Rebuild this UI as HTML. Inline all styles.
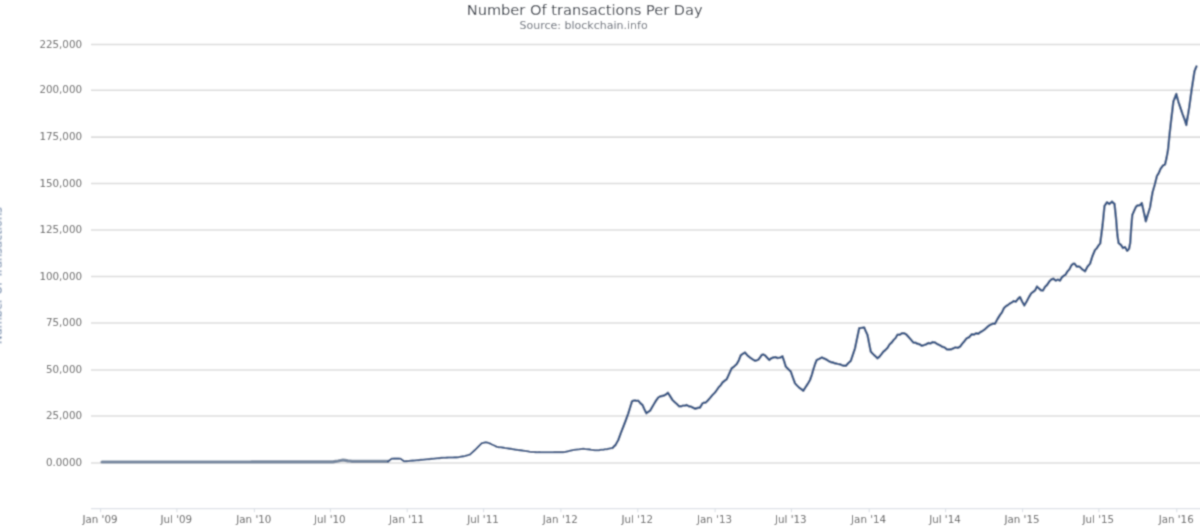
<!DOCTYPE html>
<html>
<head>
<meta charset="utf-8">
<title>Number Of transactions Per Day</title>
<style>
html,body{margin:0;padding:0;background:#fff;}
body{width:1200px;height:528px;overflow:hidden;position:relative;}
svg{position:absolute;left:0;top:0;display:block;}
text{font-family:"DejaVu Sans","Liberation Sans",sans-serif;}
.grid line{stroke:#dcdcdc;stroke-width:1.6;}
.ticks line{stroke:#d8dde4;stroke-width:1;}
.ylab text{font-size:10.3px;fill:#595959;text-anchor:end;}
.xlab text{font-size:10.3px;fill:#595959;text-anchor:middle;}
</style>
</head>
<body>
<svg width="1200" height="528" viewBox="0 0 1200 528">
<rect x="0" y="0" width="1200" height="528" fill="#ffffff"/>
<defs>
<filter id="mild" x="0" y="0" width="100%" height="100%" filterUnits="userSpaceOnUse" primitiveUnits="userSpaceOnUse"><feConvolveMatrix order="3" kernelMatrix="0.0400 0.1200 0.0400 0.1200 0.3600 0.1200 0.0400 0.1200 0.0400" edgeMode="duplicate" preserveAlpha="true"/></filter>
</defs>
<g id="chart" filter="url(#mild)">
<rect x="0" y="0" width="1200" height="528" fill="#ffffff"/>
<g opacity="1">
<text id="title" x="584.7" y="14.9" text-anchor="middle" font-size="14.6" fill="#3d434d">Number Of transactions Per Day</text>
<text id="sub" x="583.6" y="29.4" text-anchor="middle" font-size="11" fill="#686e78">Source: blockchain.info</text>
<text id="ytitle" transform="translate(1.7,275.5) rotate(-90)" text-anchor="middle" font-size="11.4" fill="#6b84a6">Number Of Transactions</text>
</g>
<g class="grid">
<line x1="91" x2="1200" y1="44.5" y2="44.5"/>
<line x1="91" x2="1200" y1="90.2" y2="90.2"/>
<line x1="91" x2="1200" y1="137.1" y2="137.1"/>
<line x1="91" x2="1200" y1="183.5" y2="183.5"/>
<line x1="91" x2="1200" y1="230" y2="230"/>
<line x1="91" x2="1200" y1="276.5" y2="276.5"/>
<line x1="91" x2="1200" y1="323" y2="323"/>
<line x1="91" x2="1200" y1="370" y2="370"/>
<line x1="91" x2="1200" y1="416" y2="416"/>
<line x1="91" x2="1200" y1="463" y2="463"/>
<line x1="91" x2="1200" y1="508.7" y2="508.7" style="stroke:#dde1e7;stroke-width:1.3"/>
</g>
<g class="ticks">
<line x1="100.6" x2="100.6" y1="508.7" y2="512.2"/>
<line x1="176.9" x2="176.9" y1="508.7" y2="512.2"/>
<line x1="254.4" x2="254.4" y1="508.7" y2="512.2"/>
<line x1="330.40000000000003" x2="330.40000000000003" y1="508.7" y2="512.2"/>
<line x1="407.20000000000005" x2="407.20000000000005" y1="508.7" y2="512.2"/>
<line x1="483.6" x2="483.6" y1="508.7" y2="512.2"/>
<line x1="560.9" x2="560.9" y1="508.7" y2="512.2"/>
<line x1="637.8000000000001" x2="637.8000000000001" y1="508.7" y2="512.2"/>
<line x1="715.1" x2="715.1" y1="508.7" y2="512.2"/>
<line x1="791.4" x2="791.4" y1="508.7" y2="512.2"/>
<line x1="869.2" x2="869.2" y1="508.7" y2="512.2"/>
<line x1="945.6" x2="945.6" y1="508.7" y2="512.2"/>
<line x1="1022.6" x2="1022.6" y1="508.7" y2="512.2"/>
<line x1="1098.8999999999999" x2="1098.8999999999999" y1="508.7" y2="512.2"/>
<line x1="1176.8" x2="1176.8" y1="508.7" y2="512.2"/>
</g>
<g class="ylab" opacity="1">
<text x="82" y="47.5">225,000</text>
<text x="82" y="93.2">200,000</text>
<text x="82" y="140.1">175,000</text>
<text x="82" y="186.5">150,000</text>
<text x="82" y="233">125,000</text>
<text x="82" y="279.5">100,000</text>
<text x="82" y="326">75,000</text>
<text x="82" y="373">50,000</text>
<text x="82" y="419">25,000</text>
<text x="82" y="466">0.0000</text>
</g>
<g class="xlab" opacity="1">
<text x="100" y="522.5">Jan '09</text>
<text x="176.3" y="522.5">Jul '09</text>
<text x="253.8" y="522.5">Jan '10</text>
<text x="329.8" y="522.5">Jul '10</text>
<text x="406.6" y="522.5">Jan '11</text>
<text x="483" y="522.5">Jul '11</text>
<text x="560.3" y="522.5">Jan '12</text>
<text x="637.2" y="522.5">Jul '12</text>
<text x="714.5" y="522.5">Jan '13</text>
<text x="790.8" y="522.5">Jul '13</text>
<text x="868.6" y="522.5">Jan '14</text>
<text x="945" y="522.5">Jul '14</text>
<text x="1022" y="522.5">Jan '15</text>
<text x="1098.3" y="522.5">Jul '15</text>
<text x="1176.2" y="522.5">Jan '16</text>
</g>
<polyline id="seriesA" fill="none" stroke="#76879f" stroke-width="3.2" stroke-linejoin="round" stroke-linecap="round" points="102.0,462.0 104.0,462.0 106.0,462.0 108.0,462.0 110.0,462.0 112.0,462.0 114.0,462.0 116.0,462.0 118.0,462.0 120.0,462.0 122.0,462.0 124.0,462.0 126.0,462.0 128.0,462.0 130.0,462.0 132.0,462.0 134.0,462.0 136.0,462.0 138.0,462.0 140.0,462.0 142.0,462.0 144.0,462.0 146.0,462.0 148.0,462.0 150.0,462.0 152.0,462.0 154.0,462.0 156.0,462.0 158.0,462.0 160.0,462.0 162.0,462.0 164.0,462.0 166.0,462.0 168.0,462.0 170.0,462.0 172.0,462.0 174.0,462.0 176.0,462.0 178.0,462.0 180.0,462.0 182.0,462.0 184.0,462.0 186.0,462.0 188.0,462.0 190.0,462.0 192.0,462.0 194.0,462.0 196.0,462.0 198.0,462.0 200.0,462.0 202.0,462.0 204.0,462.0 206.0,462.0 208.0,462.0 210.0,462.0 212.0,462.0 214.0,462.0 216.0,462.0 218.0,462.0 220.0,462.0 222.0,462.0 224.0,462.0 226.0,462.0 228.0,462.0 230.0,462.0 232.0,462.0 234.0,462.0 236.0,462.0 238.0,462.0 240.0,462.0 242.0,462.0 244.0,462.0 246.0,462.0 248.0,462.0 250.0,462.0 252.0,461.9 254.0,461.9 256.0,461.9 258.0,461.9 260.0,461.9 262.0,461.9 264.0,461.9 266.0,461.9 268.0,461.9 270.0,461.9 272.0,461.9 274.0,461.9 276.0,461.9 278.0,461.9 280.0,461.9 282.0,461.9 284.0,461.9 286.0,461.9 288.0,461.9 290.0,461.9 292.0,461.9 294.0,461.9 296.0,461.9 298.0,461.9 300.0,461.9 302.1,461.9 304.1,461.9 306.2,461.9 308.2,461.9 310.3,461.9 312.4,461.9 314.4,461.9 316.5,461.9 318.6,461.8 320.6,461.8 322.7,461.8 324.8,461.8 326.8,461.8 328.9,461.8 330.9,461.8 333.0,461.8 335.5,461.4 338.0,461.0 340.5,460.5 343.0,460.0 345.5,460.4 348.0,460.8 350.0,461.0 352.0,461.3 354.0,461.3 356.0,461.3 358.0,461.3 360.0,461.3 362.0,461.4 364.0,461.4 366.0,461.4 368.0,461.4 370.0,461.4 372.0,461.4 374.0,461.4 376.0,461.4 378.0,461.4 380.0,461.3 382.0,461.3 384.0,461.3 386.0,461.3 388.0,461.3"/>
<polyline id="seriesB" fill="none" stroke="#3d5b88" stroke-width="2.1" stroke-linejoin="round" stroke-linecap="round" points="388.0,461.3 390.0,460.0 391.7,458.7 393.9,458.6 396.0,458.5 398.4,458.6 400.8,458.7 402.5,460.2 404.2,461.3 406.3,461.1 408.4,461.0 410.4,460.8 412.5,460.6 414.6,460.5 416.7,460.3 418.8,460.1 420.9,459.9 422.9,459.7 425.0,459.5 427.1,459.3 429.1,459.1 431.2,458.9 433.3,458.7 435.3,458.5 437.3,458.3 439.3,458.1 441.3,457.9 443.3,457.7 445.2,457.7 447.1,457.6 448.9,457.5 450.8,457.5 452.7,457.5 454.6,457.4 456.4,457.4 458.3,457.3 460.5,456.8 462.8,456.4 465.0,456.0 467.5,455.3 470.0,454.5 472.2,452.5 474.5,450.4 476.7,448.3 479.2,445.7 481.7,443.3 483.8,442.7 485.8,442.2 487.9,442.8 490.0,443.5 492.2,444.6 494.5,445.6 496.7,446.7 498.8,447.1 500.8,447.3 502.9,447.6 505.0,448.0 507.1,448.3 509.1,448.6 511.2,448.9 513.3,449.2 515.3,449.6 517.4,449.9 519.4,450.1 521.5,450.4 523.5,450.7 525.6,451.0 527.6,451.3 529.7,451.7 531.7,452.0 533.6,452.0 535.5,452.1 537.3,452.2 539.2,452.1 541.1,452.2 543.0,452.3 544.8,452.3 546.7,452.3 548.7,452.2 550.8,452.2 552.8,452.2 554.8,452.1 556.9,452.1 558.9,452.1 560.9,452.1 563.0,452.1 565.0,452.0 567.1,451.5 569.1,451.0 571.2,450.5 573.3,450.0 575.3,449.7 577.3,449.5 579.3,449.3 581.3,449.0 583.3,448.7 585.2,449.0 587.2,449.2 589.1,449.4 591.1,449.8 593.0,450.0 595.0,450.3 597.1,450.2 599.1,450.1 601.2,449.8 603.3,449.7 605.1,449.3 607.0,449.1 608.8,448.7 610.7,448.3 612.5,448.0"/>
<polyline id="seriesC" fill="none" stroke="#3d5b88" stroke-width="2.45" stroke-linejoin="round" stroke-linecap="round" points="612.5,448.0 614.0,446.4 615.5,445.0 618.3,440.0 620.8,433.2 623.3,426.7 625.8,420.2 628.3,413.3 630.1,407.5 632.0,401.3 633.5,400.6 635.0,400.5 636.6,400.9 638.3,400.8 640.4,403.3 642.5,405.0 644.4,409.3 646.3,413.3 648.1,412.0 650.0,410.8 652.0,407.4 654.0,404.0 656.1,400.5 658.3,397.5 660.8,396.2 663.3,395.8 665.6,394.7 668.0,392.8 670.0,396.0 672.5,400.0 674.7,402.2 677.0,404.2 679.2,406.3 681.1,406.3 683.0,405.6 684.8,405.6 686.7,405.0 688.8,406.2 690.9,406.6 692.9,407.6 695.0,408.7 697.5,408.0 700.0,407.5 702.5,403.3 704.1,402.7 705.8,402.5 707.9,400.3 710.0,398.0 712.5,395.0 715.0,392.5 716.9,389.9 718.8,387.1 720.6,385.4 722.5,382.5 724.6,380.7 726.7,379.2 729.2,373.7 731.7,368.3 734.2,366.4 736.7,364.2 738.8,360.3 740.8,355.3 742.9,353.8 745.0,352.5 747.5,355.6 750.0,357.5 752.5,359.2 755.0,360.8 756.6,360.3 758.3,359.7 760.0,357.4 761.7,355.0 763.4,354.5 765.0,355.3 767.1,357.6 769.2,360.0 771.2,358.3 773.3,357.5 775.4,357.1 777.5,358.0 780.0,357.6 782.5,356.3 784.1,361.1 785.8,366.7 788.3,369.2 790.8,371.7 792.9,377.7 795.0,383.3 797.0,385.5 799.0,387.5 801.1,389.0 803.3,390.8 805.1,387.9 807.0,385.0 808.5,382.6 810.0,380.0 811.8,374.8 813.5,369.0 815.1,364.0 816.7,360.0 819.2,358.8 821.7,357.5 823.9,358.3 826.1,359.4 828.3,360.8 830.5,362.0 832.8,362.5 835.0,363.3 837.5,363.9 840.0,364.3 841.9,365.1 843.9,365.8 845.8,365.8 848.3,363.2 850.8,360.8 852.9,354.7 855.0,348.3 857.1,338.3 859.2,328.3 861.7,327.9 864.2,327.5 865.9,331.6 867.5,335.0 869.1,343.3 870.8,351.7 872.4,353.4 874.0,355.0 875.8,356.6 877.5,358.3 879.4,356.7 881.4,354.2 883.3,351.7 885.4,350.0 887.5,347.8 889.6,344.4 891.7,342.5 893.6,340.0 895.6,338.0 897.5,334.7 899.7,334.8 902.0,333.2 904.2,333.3 906.2,334.4 908.3,336.7 910.8,339.5 913.3,342.5 915.4,342.7 917.5,343.8 919.6,344.3 921.7,345.8 923.9,345.1 926.1,344.4 928.3,343.0 930.5,343.4 932.8,342.1 935.0,342.5 937.5,344.2 940.0,345.3 942.2,346.8 944.5,347.4 946.7,349.2 948.9,349.5 951.1,349.3 953.3,348.3 955.5,347.4 957.8,347.9 960.0,346.7 962.2,343.7 964.5,341.1 966.7,338.3 969.2,337.1 971.7,334.2 973.9,334.6 976.1,333.3 978.3,333.7 980.5,332.1 982.8,330.7 985.0,329.2 987.5,326.8 990.0,325.0 992.5,323.8 995.0,323.7 997.5,319.0 1000.0,315.0 1001.9,312.5 1003.9,308.2 1005.8,306.3 1007.8,305.1 1009.7,303.6 1011.7,302.5 1013.8,301.1 1015.8,301.7 1017.9,299.0 1020.0,297.0 1022.1,301.5 1024.3,305.5 1026.7,301.3 1029.0,297.0 1031.2,293.4 1033.3,291.7 1035.2,290.2 1037.0,286.5 1039.0,288.5 1041.0,290.2 1043.0,290.5 1045.0,286.9 1047.0,285.0 1049.2,281.7 1051.3,279.5 1053.5,278.7 1055.7,280.6 1057.8,279.7 1060.0,280.5 1061.9,277.3 1063.8,275.7 1065.6,274.5 1067.5,271.3 1069.3,269.5 1071.2,265.7 1073.0,263.8 1074.8,263.8 1076.5,266.4 1078.2,266.4 1080.0,267.0 1082.5,269.6 1085.0,271.3 1087.5,266.6 1090.0,263.8 1092.5,255.9 1095.0,250.0 1096.7,248.3 1098.5,245.5 1100.2,243.5 1102.6,225.0 1104.5,206.0 1107.0,202.2 1109.3,204.0 1112.0,201.6 1114.5,204.0 1116.0,218.0 1117.4,235.0 1118.6,243.0 1121.0,245.0 1123.0,248.0 1125.0,247.0 1127.2,250.8 1129.0,249.0 1130.2,243.0 1131.2,228.0 1132.3,215.0 1134.5,210.0 1136.0,206.8 1137.5,205.5 1139.7,205.3 1141.8,203.0 1143.8,212.0 1145.8,221.3 1148.0,214.0 1150.0,207.5 1152.5,192.5 1154.8,184.5 1157.0,175.8 1158.8,173.0 1160.6,168.8 1162.8,165.7 1165.0,164.5 1166.5,158.1 1168.0,150.0 1169.5,134.8 1171.0,121.5 1173.4,101.5 1176.3,94.0 1178.4,101.8 1180.5,108.0 1182.4,113.6 1184.4,119.0 1186.3,125.0 1189.2,107.6 1191.6,90.0 1194.5,71.2 1196.4,66.5"/>
</g>
</svg>
</body>
</html>
